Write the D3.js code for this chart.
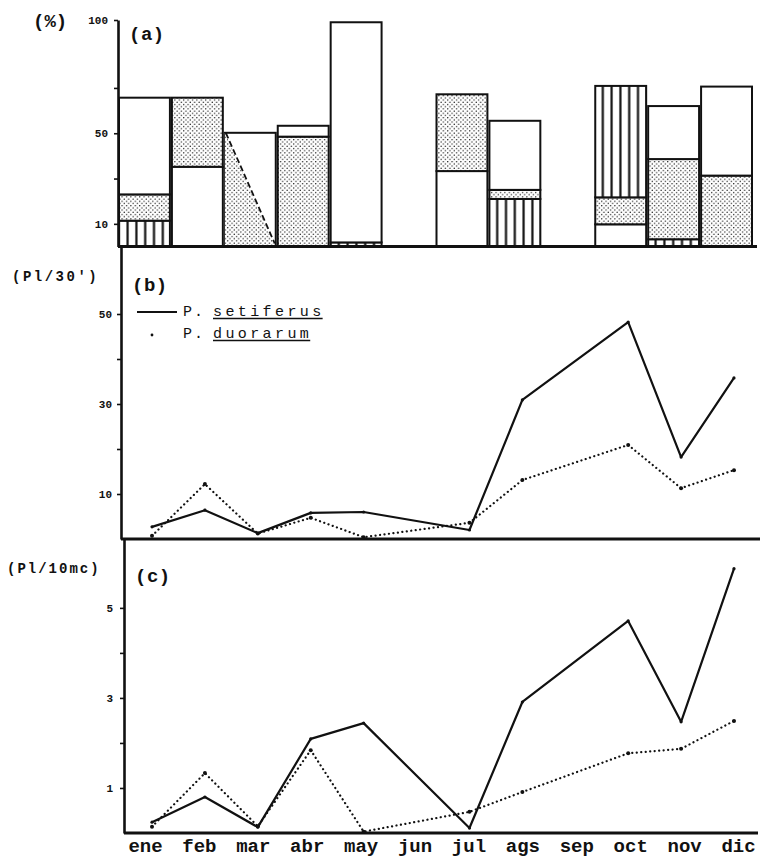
<!DOCTYPE html>
<html>
<head>
<meta charset="utf-8">
<script src="https://cdn.jsdelivr.net/npm/d3@7"></script>
<style>
  html, body { margin: 0; padding: 0; background: #fff; }
  svg { display: block; }
</style>
</head>
<body>
<svg id="chart" width="762" height="858"></svg>
<script>
// Months of the sampling year
const months = ["ene", "feb", "mar", "abr", "may", "jun", "jul", "ags", "sep", "oct", "nov", "dic"];

// (a) composition of each monthly sample (%), one array per fill
const stripeShare  = [11.4, 0, 0, 0, 1.8, 0, 0, 21.0, 0, 49.2, 3.2, 0];
const stippleShare = [11.6, 30.5, 0, 48.5, 0, 0, 33.9, 4.0, 0, 11.9, 35.4, 31.3];
const blankShare   = [42.7, 35.2, 0, 4.8, 97.2, 0, 33.3, 30.5, 0, 9.8, 23.4, 39.3];
const taperShare   = [0, 0, 50.2, 0, 0, 0, 0, 0, 0, 0, 0, 0];
// stacking order from the bottom: R stripes, S stipple, B blank, W tapered stipple
const stackOrder   = ["RSB", "BS", "W", "SB", "RB", "", "BS", "RSB", "", "BSR", "RSB", "SB"];

// (b) postlarvae per 30 min
const setiferus30 = [2.7, 6.4, 1.3, 5.8, 6.0, null, 2.0, 30.9, null, 48.2, 18.2, 35.8];
const duorarum30  = [0.7, 12.2, 1.2, 4.7, 0.4, null, 3.6, 13.1, null, 20.9, 11.3, 15.3];

// (c) postlarvae per 10 m3
const setiferus10 = [0.24, 0.8, 0.13, 2.09, 2.44, null, 0.11, 2.91, null, 4.71, 2.47, 5.87];
const duorarum10  = [0.14, 1.33, 0.15, 1.84, 0.03, null, 0.47, 0.91, null, 1.77, 1.87, 2.49];

// axis ticks
const ticksA = [10, 30, 50, 70, 100], labelsA = [10, 50, 100];
const ticksB = [10, 20, 30, 40, 50],  labelsB = [10, 30, 50];
const ticksC = [1, 2, 3, 4, 5],       labelsC = [1, 3, 5];

const ink = "#111";
const mono = "'Liberation Mono', 'DejaVu Sans Mono', monospace";
const svg = d3.select("#chart");

// fill patterns
const defs = svg.append("defs");
const stip = defs.append("pattern").attr("id", "stipple")
  .attr("patternUnits", "userSpaceOnUse").attr("width", 4.4).attr("height", 4.4);
stip.append("rect").attr("width", 4.4).attr("height", 4.4).attr("fill", "#fff");
stip.append("circle").attr("cx", 1.1).attr("cy", 1.1).attr("r", 0.7).attr("fill", ink);
stip.append("circle").attr("cx", 3.3).attr("cy", 3.3).attr("r", 0.7).attr("fill", ink);
const strp = defs.append("pattern").attr("id", "stripes")
  .attr("patternUnits", "userSpaceOnUse").attr("width", 8.8).attr("height", 10);
strp.append("rect").attr("width", 8.8).attr("height", 10).attr("fill", "#fff");
strp.append("line").attr("x1", 4.4).attr("x2", 4.4).attr("y1", 0).attr("y2", 10)
  .attr("stroke", ink).attr("stroke-width", 2.2);

// scales
const xBand = d3.scaleBand().domain(months).range([118, 753]).padding(0);
const xPt   = d3.scalePoint().domain(months).range([152, 734]);
const xLab  = d3.scalePoint().domain(months).range([145, 738]);
const ya = d3.scaleLinear().domain([0, 100]).range([246.5, 20]);
const yb = d3.scaleLinear().domain([0, 65]).range([539, 246.5]);
const yc = d3.scaleLinear().domain([0, 6.53]).range([833, 539]);

// ---- panel (a): stacked composition bars ----
const fills  = { R: "url(#stripes)", S: "url(#stipple)", B: "#fff", W: "#fff" };
const shares = { R: stripeShare, S: stippleShare, B: blankShare, W: taperShare };
const segs = [];
months.forEach((m, i) => {
  let base = 0;
  for (const k of stackOrder[i]) {
    const v = shares[k][i];
    segs.push({ m, k, v0: base, v1: base + v });
    base += v;
  }
});

const gA = svg.append("g");
gA.selectAll("rect.seg").data(segs).join("rect")
  .attr("class", "seg")
  .attr("x", d => xBand(d.m) + 1)
  .attr("width", xBand.bandwidth() - 2)
  .attr("y", d => ya(d.v1))
  .attr("height", d => ya(d.v0) - ya(d.v1))
  .attr("fill", d => fills[d.k])
  .attr("stroke", ink).attr("stroke-width", 2);

// tapered stipple: triangle under a dashed diagonal
const tapers = segs.filter(d => d.k === "W");
gA.selectAll("path.taper").data(tapers).join("path")
  .attr("class", "taper")
  .attr("d", d => {
    const x0 = xBand(d.m) + 1, x1 = xBand(d.m) + xBand.bandwidth() - 2;
    return `M${x0},${ya(d.v1)}L${x0},${ya(d.v0)}L${x1},${ya(d.v0)}Z`;
  })
  .attr("fill", "url(#stipple)");
gA.selectAll("line.taper").data(tapers).join("line")
  .attr("class", "taper")
  .attr("x1", d => xBand(d.m) + 2).attr("y1", d => ya(d.v1))
  .attr("x2", d => xBand(d.m) + xBand.bandwidth() - 2).attr("y2", d => ya(d.v0) - 3)
  .attr("stroke", ink).attr("stroke-width", 1.8).attr("stroke-dasharray", "6 3");

// ---- axes ----
function styleAxis(g, fontSize) {
  g.select(".domain").attr("stroke", ink).attr("stroke-width", 2.6);
  g.selectAll(".tick line").attr("stroke", ink).attr("stroke-width", 1.6);
  g.selectAll(".tick text").attr("fill", ink)
    .style("font-family", mono).style("font-weight", "bold").style("font-size", fontSize + "px");
}

svg.append("g").attr("transform", "translate(118,0)")
  .call(d3.axisLeft(ya).tickValues(ticksA).tickSize(4).tickSizeOuter(0).tickPadding(6)
    .tickFormat(d => labelsA.includes(d) ? d : ""))
  .call(g => styleAxis(g, 11));

svg.append("g").attr("transform", "translate(121,0)")
  .call(d3.axisLeft(yb).tickValues(ticksB).tickSize(4).tickSizeOuter(0).tickPadding(5)
    .tickFormat(d => labelsB.includes(d) ? d : ""))
  .call(g => styleAxis(g, 11));

svg.append("g").attr("transform", "translate(124,0)")
  .call(d3.axisLeft(yc).tickValues(ticksC).tickSize(4).tickSizeOuter(0).tickPadding(7)
    .tickFormat(d => labelsC.includes(d) ? d : ""))
  .call(g => styleAxis(g, 11));

// baselines
const base = svg.append("g").attr("stroke", ink).attr("stroke-width", 2.8);
base.append("line").attr("x1", 118).attr("x2", xBand.range()[1] + 4)
  .attr("y1", ya(0)).attr("y2", ya(0));
base.append("line").attr("x1", 121).attr("x2", 760)
  .attr("y1", yb(0)).attr("y2", yb(0));
base.append("line").attr("x1", 124).attr("x2", 758)
  .attr("y1", yc(0)).attr("y2", yc(0));

// month labels
svg.append("g").attr("transform", `translate(0,${yc(0)})`)
  .call(d3.axisBottom(xLab).tickSize(0).tickPadding(6))
  .call(g => g.select(".domain").remove())
  .call(g => g.selectAll(".tick text").attr("fill", ink)
    .style("font-family", mono).style("font-weight", "bold").style("font-size", "19px"));

// ---- panels (b) and (c): lines ----
function drawSeries(yScale, values, dotted) {
  const pts = months.map((m, i) => ({ m, v: values[i] })).filter(d => d.v != null);
  const g = svg.append("g");
  g.append("path").datum(pts)
    .attr("d", d3.line().x(d => xPt(d.m)).y(d => yScale(d.v)))
    .attr("fill", "none").attr("stroke", ink)
    .attr("stroke-width", 2.2)
    .attr("stroke-linejoin", "round")
    .attr("stroke-linecap", dotted ? "round" : "butt")
    .attr("stroke-dasharray", dotted ? "0.1 4.4" : null);
  g.selectAll("circle").data(pts).join("circle")
    .attr("cx", d => xPt(d.m)).attr("cy", d => yScale(d.v))
    .attr("r", dotted ? 2 : 1.6).attr("fill", ink);
}
drawSeries(yb, duorarum30, true);
drawSeries(yb, setiferus30, false);
drawSeries(yc, duorarum10, true);
drawSeries(yc, setiferus10, false);

// ---- titles and units ----
function label(x, y, txt, size, weight, spacing) {
  return svg.append("text").attr("x", x).attr("y", y).text(txt)
    .attr("fill", ink)
    .style("font-family", mono).style("font-size", size + "px")
    .style("font-weight", weight).style("letter-spacing", spacing + "px");
}
label(33, 27, "(%)", 19, "bold", 0);
label(129, 40, "(a)", 19, "bold", 0.5);
label(12, 281, "(Pl/30')", 14, "bold", 2.5);
label(132, 291, "(b)", 19, "bold", 0.5);
label(7, 573, "(Pl/10mc)", 14, "bold", 2);
label(135, 582, "(c)", 19, "bold", 0.5);

// ---- legend ----
const legend = [
  { genus: "P.", name: "setiferus", y: 316, dotted: false },
  { genus: "P.", name: "duorarum",  y: 338, dotted: true }
];
legend.forEach(d => {
  if (d.dotted) {
    svg.append("circle").attr("cx", 152).attr("cy", d.y - 3).attr("r", 1.4).attr("fill", ink);
  } else {
    svg.append("line").attr("x1", 137).attr("x2", 177).attr("y1", d.y - 4).attr("y2", d.y - 4)
      .attr("stroke", ink).attr("stroke-width", 2);
  }
  label(183, d.y, d.genus, 15, "normal", 2);
  const t = label(213, d.y, d.name, 15, "normal", 3.4);
  const w = t.node().getComputedTextLength();
  svg.append("line").attr("x1", 213).attr("x2", 213 + w - 2)
    .attr("y1", d.y + 2.5).attr("y2", d.y + 2.5)
    .attr("stroke", ink).attr("stroke-width", 1.6);
});
</script>
</body>
</html>
